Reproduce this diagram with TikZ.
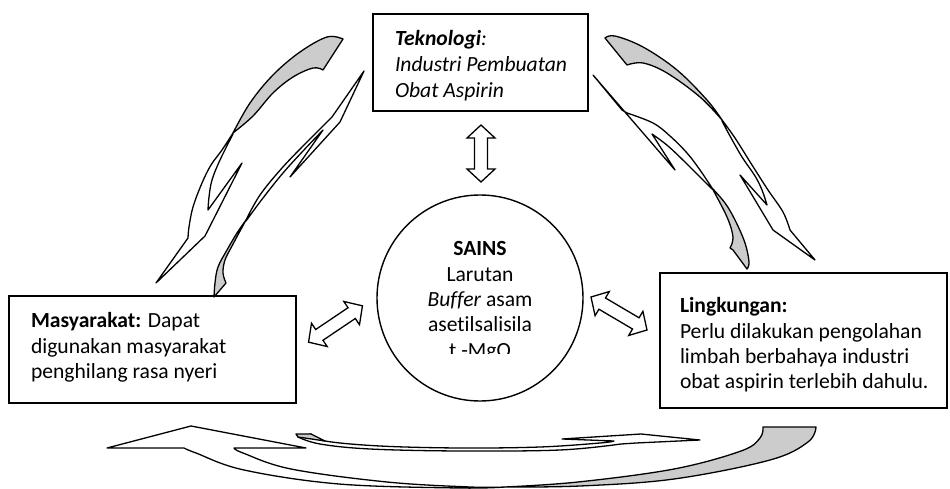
\documentclass[tikz,border=0pt]{standalone}
\usepackage{fontspec}
\setmainfont{Carlito}[Ligatures={NoCommon}]
\definecolor{backgray}{RGB}{204,204,204}
\tikzset{
  box/.style={draw, line width=1.4bp, inner sep=0pt, outer sep=0pt},
  txt/.style={inner sep=0pt, outer sep=0pt, font=\fontsize{21.6bp}{25bp}\selectfont},
  face/.style={draw, line width=1.3bp, line join=round, fill=white},
  backface/.style={draw, line width=1.3bp, line join=round, fill=backgray},
  blockarrow/.style={draw, line width=1.3bp, line join=miter, fill=white},
}
\newcommand{\dblarr}[3]{%
  \draw[blockarrow, shift={(#1)}, rotate=#2]
    (-#3,0) -- (-#3+13,14) -- (-#3+13,6.5) -- (#3-13,6.5) -- (#3-13,14) --
    (#3,0) -- (#3-13,-14) -- (#3-13,-6.5) -- (-#3+13,-6.5) -- (-#3+13,-14) -- cycle;}
\begin{document}
\begin{tikzpicture}[x=1bp, y=-1bp]
\useasboundingbox (0,0) rectangle (950,489);

% boxes and circle
\node[box, minimum width=215bp, minimum height=97bp] (tek) at (480.5,62.5) {};
\node[box, minimum width=287bp, minimum height=107bp] (mas) at (152.5,349.5) {};
\node[box, minimum width=287bp, minimum height=135bp] (lin) at (803.5,340.5) {};
\node[circle, draw, line width=1.4bp, inner sep=0pt, minimum size=206bp] (sains) at (480,298) {};

% texts
\node[txt, anchor=base west] (tek1) at (395,46) {\textbf{\textit{Teknologi}}\textit{:}};
\node[txt, anchor=base west] (tek2) at (395,72) {\textit{Industri Pembuatan}};
\node[txt, anchor=base west] (tek3) at (395,97.5) {\textit{Obat Aspirin}};

\node[txt, anchor=base west] (mas1) at (31,328) {\textbf{Masyarakat:} Dapat};
\node[txt, anchor=base west] (mas2) at (31,353.5) {digunakan masyarakat};
\node[txt, anchor=base west] (mas3) at (31,379) {penghilang rasa nyeri};

\node[txt, anchor=base west] (lin1) at (680,313) {\textbf{Lingkungan:}};
\node[txt, anchor=base west] (lin2) at (680,338.5) {Perlu dilakukan pengolahan};
\node[txt, anchor=base west] (lin3) at (680,363.5) {limbah berbahaya industri};
\node[txt, anchor=base west] (lin4) at (680,388.5) {obat aspirin terlebih dahulu.};

\begin{scope}
\clip (380,225) rectangle (580,353);
\node[txt, anchor=base] (s1) at (480,256) {\textbf{SAINS}};
\node[txt, anchor=base] (s2) at (480,281.3) {Larutan};
\node[txt, anchor=base] (s3) at (480,306.6) {\textit{Buffer} asam};
\node[txt, anchor=base] (s4) at (480,331.9) {asetilsalisila};
\node[txt, anchor=base] (s5) at (480,357.2) {t -MgO};
\end{scope}

% straight double arrows between circle and boxes
\coordinate (va) at (481,153.5);
\coordinate (la) at (335.5,324);
\coordinate (ra) at (619,313.5);
\dblarr{va}{90}{28.5}
\dblarr{la}{34}{32.5}
\dblarr{ra}{-30.5}{32.5}

% ---- curved arrow A (upper left, outer) ----
\draw[backface] plot[smooth, tension=0.6] coordinates {(343,39) (327,37) (300,52) (273,75) (250,103) (233,133)}
  -- plot[smooth, tension=0.6] coordinates {(233,133) (253,116) (273,93) (293,77) (313,68) (323,70)} -- cycle;
\draw[face] plot[smooth, tension=0.6] coordinates {(233,133) (222,150) (211,165) (202,183) (193,207) (189,227) (188,238)}
  -- (156,283) -- (205,236) -- (242,163) -- (208,210)
  -- plot[smooth, tension=0.6] coordinates {(208,210) (209,197) (212,180) (220,160) (233,134)} -- cycle;

% ---- curved arrow B (upper left, inner) ----
\draw[face] plot[smooth, tension=0.6] coordinates {(246,220) (260,195) (282,168) (307,142) (332,117)}
  -- (364,71) -- (340,122) -- (290,177) -- (323,130)
  -- plot[smooth, tension=0.6] coordinates {(323,130) (303,151) (283,173) (263,198) (246,221)} -- cycle;
\draw[backface] plot[smooth, tension=0.6] coordinates {(246,220) (237,233) (227,250) (218,267) (215,283) (214,297)}
  -- (226,283) -- plot[smooth, tension=0.6] coordinates {(226,283) (223,273) (225,260) (232,246) (246,220)} -- cycle;

% ---- curved arrow C (upper right, outer) ----
\draw[backface] plot[smooth, tension=0.6] coordinates {(605,38) (615,36) (643,47) (677,70) (707,100) (722,120)}
  -- plot[smooth, tension=0.6] coordinates {(722,120) (700,97) (667,73) (643,63) (627,65)} -- cycle;
\draw[face] plot[smooth, tension=0.6] coordinates {(722,120) (735,138) (752,165) (768,190) (783,212) (790,230)}
  -- (815,260) -- (773,230) -- (740,175) -- (767,205)
  -- plot[smooth, tension=0.6] coordinates {(767,205) (762,190) (755,176) (742,157) (730,136) (722,121)} -- cycle;

% ---- curved arrow D (upper right, inner) ----
\draw[face] plot[smooth, tension=0.6] coordinates {(712,188) (700,170) (687,153) (670,136) (653,123) (627,113)}
  -- (622,110) -- (593,75) -- (675,170) -- (652,134)
  -- plot[smooth, tension=0.6] coordinates {(652,134) (668,146) (687,164) (700,177) (712,189)} -- cycle;
\draw[backface] plot[smooth, tension=0.6] coordinates {(712,188) (725,203) (735,220) (745,243) (749,262) (747,269)}
  -- (733,250) -- (730,248) -- plot[smooth, tension=0.6] coordinates {(730,248) (733,237) (727,217) (712,188)} -- cycle;

% ---- curved arrow E (bottom, big) ----
\draw[backface] (763,427) -- (816,427)
  -- plot[smooth, tension=0.6] coordinates {(816,427) (808,442) (770,460) (674,479) (580,486) (505,487)}
  -- plot[smooth, tension=0.6] coordinates {(505,487) (578,482) (674,469) (741,451) (760,438) (763,427)} -- cycle;
\draw[face] plot[smooth, tension=0.6] coordinates {(505,487) (459,488) (339,484) (244,470) (196,453) (184,448)}
  -- (107,448) -- (191,426) -- (306,448) -- (234,448)
  -- plot[smooth, tension=0.6] coordinates {(234,448) (243,453) (291,469) (387,482) (470,487) (505,487)} -- cycle;

% ---- curved arrow F (bottom, small) ----
\draw[face] plot[smooth, tension=0.6] coordinates {(311,434) (325,441) (380,446) (460,448) (540,447) (600,443) (614,441)}
  -- (562,439) -- (641,434) -- (700,440) -- (636,443) -- (621,444)
  -- plot[smooth, tension=0.6] coordinates {(621,444) (560,450) (460,451) (370,449) (320,444) (298,437)} -- cycle;
\draw[backface] (296,434) -- (311,434) -- (325,441) -- (298,437) -- cycle;
\end{tikzpicture}
\end{document}
